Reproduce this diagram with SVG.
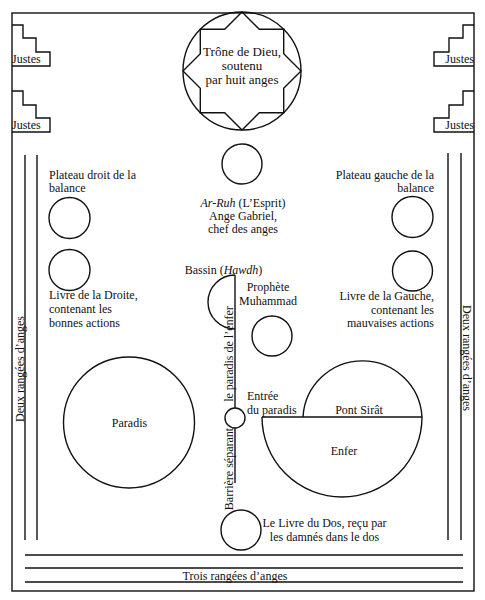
<svg xmlns="http://www.w3.org/2000/svg" width="485" height="600" viewBox="0 0 485 600">
<style>
.s{fill:none;stroke:#111;stroke-width:1.4}
.w{fill:#fff;stroke:#111;stroke-width:1.4}
text{font-family:"Liberation Serif","Times New Roman",serif;font-size:12px;fill:#111}
.c{text-anchor:middle}
.e{text-anchor:end}
.i{font-style:italic}
.big{font-size:13px}
</style>
<rect x="0" y="0" width="485" height="600" fill="#fff"/>
<g id="frame">
<rect x="12" y="13" width="462" height="578" class="s"/>
<line x1="25" y1="155" x2="25" y2="540" class="s"/>
<line x1="37" y1="155" x2="37" y2="540" class="s"/>
<line x1="448" y1="153" x2="448" y2="540" class="s"/>
<line x1="461" y1="153" x2="461" y2="540" class="s"/>
<line x1="25" y1="555" x2="463" y2="555" class="s"/>
<line x1="25" y1="568" x2="463" y2="568" class="s"/>
<line x1="25" y1="582" x2="463" y2="582" class="s"/>
<text transform="translate(23.5,369) rotate(-90)" class="c">Deux rangées d’anges</text>
<text transform="translate(463,358) rotate(90)" class="c">Deux rangées d’anges</text>
<text x="235" y="579.5" class="c">Trois rangées d’anges</text>
</g>
<g id="justes-l1"><path d="M12,25 H23 V38 H36 V52 H50 V66 H12" class="s"/><text x="12" y="63">Justes</text></g>
<g id="justes-l2"><path d="M12,91 H23 V105 H36 V118 H50 V132 H12" class="s"/><text x="12" y="129">Justes</text></g>
<g id="justes-r1"><path d="M474,25 H463 V38 H449 V52 H434 V66 H474" class="s"/><text x="474" y="63" class="e">Justes</text></g>
<g id="justes-r2"><path d="M474,91 H463 V105 H449 V118 H434 V132 H474" class="s"/><text x="474" y="129" class="e">Justes</text></g>
<g id="trone">
<circle cx="242" cy="71" r="59" class="s"/>
<polygon points="242,12 259.3,29.3 283.7,29.3 283.7,53.7 301,71 283.7,88.3 283.7,112.7 259.3,112.7 242,130 224.7,112.7 200.3,112.7 200.3,88.3 183,71 200.3,53.7 200.3,29.3 224.7,29.3" class="s"/>
<text x="242" y="56" class="c big">Trône de Dieu,</text>
<text x="242" y="70" class="c big">soutenu</text>
<text x="242" y="84" class="c big">par huit anges</text>
</g>
<g id="ar-ruh">
<circle cx="242" cy="164" r="20" class="s"/>
<text x="243" y="207" class="c"><tspan class="i">Ar-Ruh</tspan> (L’Esprit)</text>
<text x="243" y="220" class="c">Ange Gabriel,</text>
<text x="243" y="233" class="c">chef des anges</text>
</g>
<g id="plateau-droit">
<text x="49" y="179">Plateau droit de la</text>
<text x="49" y="192">balance</text>
<circle cx="69.5" cy="218" r="20.5" class="s"/>
</g>
<g id="livre-droite">
<circle cx="69.5" cy="270" r="20.5" class="s"/>
<text x="49" y="299">Livre de la Droite,</text>
<text x="49" y="313">contenant les</text>
<text x="49" y="327">bonnes actions</text>
</g>
<g id="plateau-gauche">
<text x="434" y="179" class="e">Plateau gauche de la</text>
<text x="434" y="192" class="e">balance</text>
<circle cx="412.5" cy="217" r="20.5" class="s"/>
</g>
<g id="livre-gauche">
<circle cx="412.5" cy="271" r="20" class="s"/>
<text x="434" y="300" class="e">Livre de la Gauche,</text>
<text x="434" y="314" class="e">contenant les</text>
<text x="434" y="327" class="e">mauvaises actions</text>
</g>
<g id="connectors">
<line x1="235" y1="275" x2="235" y2="483" class="s"/>
</g>
<g id="bassin">
<path d="M235,275 A27,27 0 0 0 235,329" class="s"/>
<text x="223.5" y="274" class="c">Bassin (<tspan class="i">Hawdh</tspan>)</text>
</g>
<g id="barriere">
<text transform="translate(232.5,354) rotate(-90)" class="c">le paradis de l’enfer</text>
<text transform="translate(232.5,469) rotate(-90)" class="c">Barrière séparant</text>
</g>
<g id="prophete">
<text x="268" y="291" class="c">Prophète</text>
<text x="268" y="305" class="c">Muhammad</text>
<circle cx="272" cy="336" r="20" class="s"/>
</g>
<g id="paradis">
<circle cx="129" cy="422.5" r="65.5" class="s"/>
<text x="129.5" y="427" class="c">Paradis</text>
</g>
<g id="entree">
<circle cx="235" cy="418" r="10" class="w"/>
<text x="247" y="400">Entrée</text>
<text x="247" y="414">du paradis</text>
</g>
<g id="enfer">
<path d="M262,417 A80,80 0 0 0 422,417" class="s"/>
<path d="M303,417 A59.6,59.6 0 0 1 422,417" class="s"/>
<line x1="262" y1="417" x2="422" y2="417" class="s"/>
<text x="359" y="414" class="c">Pont Sirât</text>
<text x="344" y="455" class="c">Enfer</text>
</g>
<g id="livre-dos">
<circle cx="241" cy="530" r="20" class="s"/>
<text x="324.5" y="527" class="c">Le Livre du Dos, reçu par</text>
<text x="324.5" y="541" class="c">les damnés dans le dos</text>
</g>
</svg>
